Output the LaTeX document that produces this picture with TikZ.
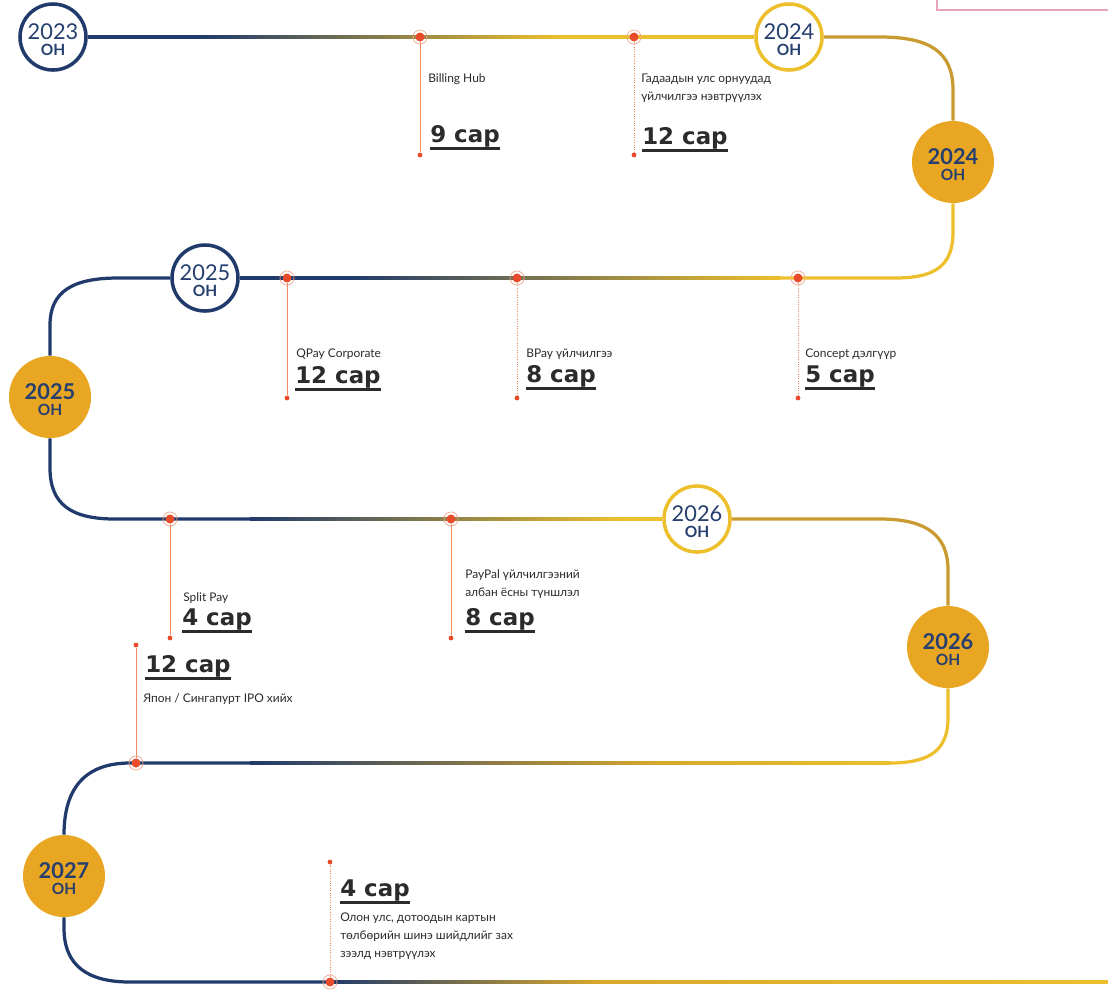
\documentclass[tikz,border=0pt]{standalone}
\usepackage{fontspec}
\setmainfont{Lato}
\newfontfamily\durfont{DejaVu Sans}
\usepackage{xcolor}
\usetikzlibrary{calc}

\definecolor{navy}{HTML}{1F3A6B}
\definecolor{lineyel}{HTML}{EDBF2C}
\definecolor{linegold}{HTML}{C99A30}
\definecolor{rowgold}{HTML}{D9A82C}
\definecolor{sun}{HTML}{E9A623}
\definecolor{yeartxt}{HTML}{263F6E}
\definecolor{dotred}{HTML}{E84A2A}
\definecolor{stemc}{HTML}{EF8A5E}
\definecolor{ringc}{HTML}{F2A88E}
\definecolor{inktxt}{HTML}{2B2B2B}
\definecolor{pinkline}{HTML}{E9A3B9}

\newcommand{\yr}[1]{\rule{0pt}{15pt}#1\\{\fontsize{11}{11.7}\selectfont\bfseries ОН}}
\newcommand{\band}[4]{\shade[left color=#3, right color=#4] ($(#1)+(0,1.6)$) rectangle ($(#2)-(0,1.6)$);}

\begin{document}
\begin{tikzpicture}[
    x=0.025cm, y=-0.025cm,
    track/.style={line width=2.3pt},
    hollow/.style={circle, draw=#1, line width=2.5pt, fill=white, minimum size=1.65cm,
                   inner sep=0pt, align=center, text=yeartxt,
                   font=\fontsize{15.5}{11.7}\selectfont},
    sunyear/.style={circle, fill=sun, minimum size=2.05cm, inner sep=0pt, align=center,
                    text=yeartxt, font=\fontsize{15.5}{11.7}\selectfont\bfseries},
    dot/.style={circle, fill=dotred, minimum size=6.4pt, inner sep=0pt},
    ring/.style={circle, draw=ringc, line width=0.5pt, minimum size=10pt, inner sep=0pt},
    tip/.style={circle, fill=dotred, minimum size=3.4pt, inner sep=0pt},
    stem/.style={draw=stemc, line width=0.7pt},
    dstem/.style={stem, densely dotted},
    note/.style={anchor=base west, inner sep=0pt, align=left, text=inktxt,
                 font=\fontsize{8.5}{12.6}\selectfont},
    dur/.style={anchor=base west, inner sep=0pt, text=inktxt,
                font=\durfont\bfseries\fontsize{16.3}{20}\selectfont},
    uline/.style={line width=1.6pt, inktxt}
]
\path[use as bounding box, fill=white] (0,0) rectangle (1108,989);

% corner of the pink frame
\draw[pinkline, line width=0.8pt] (937,-5) -- (937,10) -- (1115,10);

% year circles
\node[hollow=navy]    (y23)  at (53,37)   {\yr{2023}};
\node[hollow=lineyel] (y24a) at (789,37)  {\yr{2024}};
\node[sunyear]        (y24b) at (953,162) {\yr{2024}};
\node[hollow=navy]    (y25a) at (205,278) {\yr{2025}};
\node[sunyear]        (y25b) at (50,397)  {\yr{2025}};
\node[hollow=lineyel] (y26a) at (697,519) {\yr{2026}};
\node[sunyear]        (y26b) at (948,647) {\yr{2026}};
\node[sunyear]        (y27)  at (64,876)  {\yr{2027}};

% track
\coordinate (k1) at (200,37);
\coordinate (k2) at (560,37);
\draw[track, navy] (y23.east) -- (k1);
\band{k1}{k2}{navy}{lineyel}
\draw[track, lineyel] (k2) -- (y24a.west);
\draw[track, linegold] (y24a.east) -- (880,37) .. controls (930,37) and (953,52) .. (953,90) -- (y24b.north);

\coordinate (k3) at (350,278);
\coordinate (k4) at (780,278);
\draw[track, lineyel] (y24b.south) -- (953,232) .. controls (953,266) and (935,278) .. (895,278) -- (k4);
\band{k3}{k4}{navy}{lineyel}
\draw[track, navy] (k3) -- (y25a.east);
\draw[track, navy] (y25a.west) -- (118,278) .. controls (72,278) and (50,292) .. (50,325) -- (y25b.north);

\coordinate (k5) at (250,519);
\coordinate (k6) at (620,519);
\draw[track, navy] (y25b.south) -- (50,468) .. controls (50,505) and (72,519) .. (115,519) -- (k5);
\band{k5}{k6}{navy}{lineyel}
\draw[track, lineyel] (k6) -- (y26a.west);
\draw[track, linegold] (y26a.east) -- (880,519) .. controls (926,519) and (948,535) .. (948,570) -- (y26b.north);

\coordinate (k7) at (250,763);
\coordinate (k8) at (660,763);
\coordinate (k9) at (890,763);
\draw[track, lineyel] (y26b.south) -- (948,718) .. controls (948,750) and (930,763) .. (k9);
\band{k8}{k9}{rowgold}{lineyel}
\band{k7}{k8}{navy}{rowgold}
\draw[track, navy] (k7) -- (130,763) .. controls (88,763) and (64,785) .. (y27.north);

\coordinate (k10) at (330,982);
\coordinate (k11) at (600,982);
\coordinate (k12) at (1110,982);
\draw[track, navy] (y27.south) -- (64,928) .. controls (64,966) and (88,982) .. (130,982) -- (k10);
\band{k10}{k11}{navy}{rowgold}
\band{k11}{k12}{rowgold}{lineyel}

% milestones
\foreach \name/\x/\y in {m1/420/37, m2/634/37, m3/287/278, m4/517/278, m5/798/278,
                         m6/170/519, m7/451/519, m8/136/763, m9/330/982}{
  \node[ring] (r\name) at (\x,\y) {};
  \node[dot] (\name) at (\x,\y) {};
}
\foreach \name/\x/\y in {t1/420/155, t2/634/155, t3/287/398, t4/517/398, t5/798/398,
                         t6/170/638, t7/451/638, t8/136/645, t9/330/862}
  \node[tip] (\name) at (\x,\y) {};

\draw[stem]  (m1) -- (t1);
\draw[dstem] (m2) -- (t2);
\draw[stem]  (m3) -- (t3);
\draw[dstem] (m4) -- (t4);
\draw[dstem] (m5) -- (t5);
\draw[stem]  (m6) -- (t6);
\draw[stem]  (m7) -- (t7);
\draw[stem]  (m8) -- (t8);
\draw[dstem] (m9) -- (t9);

% labels (base = last line)
\node[note] (n1) at (428,82)  {Billing Hub};
\node[dur]  (d1) at (430,142) {9 сар};
\node[note] (n2) at (641,100) {Гадаадын улс орнуудад\\үйлчилгээ нэвтрүүлэх};
\node[dur]  (d2) at (642,144) {12 сар};
\node[note] (n3) at (296,357) {QPay Corporate};
\node[dur]  (d3) at (295,383) {12 сар};
\node[note] (n4) at (526,357) {BPay үйлчилгээ};
\node[dur]  (d4) at (526,382) {8 сар};
\node[note] (n5) at (805,357) {Concept дэлгүүр};
\node[dur]  (d5) at (805,382) {5 сар};
\node[note] (n6) at (183,601) {Split Pay};
\node[dur]  (d6) at (182,625) {4 сар};
\node[note] (n7) at (465,596) {PayPal үйлчилгээний\\албан ёсны түншлэл};
\node[dur]  (d7) at (465,625) {8 сар};
\node[dur]  (d8) at (145,672) {12 сар};
\node[note] (n8) at (143,702) {Япон / Сингапурт IPO хийх};
\node[dur]  (d9) at (340,896) {4 сар};
\node[note] (n9) at (340,957) {Олон улс, дотоодын картын\\төлбөрийн шинэ шийдлийг зах\\зээлд нэвтрүүлэх};

\foreach \i in {1,...,9}
  \draw[uline] ([yshift=-1pt]d\i.south west) -- ([yshift=-1pt]d\i.south east);

\end{tikzpicture}
\end{document}
